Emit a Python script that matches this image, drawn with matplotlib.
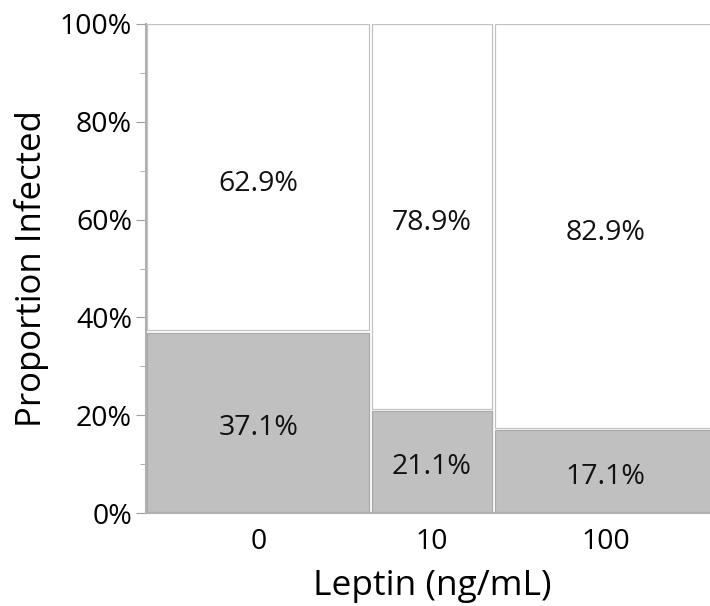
import matplotlib
matplotlib.use("Agg")
import matplotlib.pyplot as plt
from matplotlib.patches import Rectangle
from matplotlib.ticker import MultipleLocator, FuncFormatter

categories = ["0", "10", "100"]
counts = [35, 19, 35]
infected_pct = [37.1, 21.1, 17.1]
uninfected_pct = [62.9, 78.9, 82.9]

plt.rcParams['font.family'] = ['Open Sans', 'DejaVu Sans']

fig = plt.figure(figsize=(7.1, 6.06), dpi=100)
# the plot area runs slightly past the right edge of the figure, as in the reference
ax = fig.add_axes([146/710, 1-513/606, (718-146)/710, (513-24)/606])

total = sum(counts)
xgap = 0.0052
ygap = 0.45
edge = '#c2c2c2'
x0 = 0.0
centers = []
for cat, n, inf, uninf in zip(categories, counts, infected_pct, uninfected_pct):
    w = n / total
    left = x0 + (xgap/2 if x0 > 0 else 0.0015)
    right = x0 + w - xgap/2
    width = right - left
    ax.add_patch(Rectangle((left, 0.2), width, inf - 0.2 - ygap/2, facecolor='#c0c0c0',
                           edgecolor='#a9a9a9', lw=0.9))
    ax.add_patch(Rectangle((left, inf + ygap/2), width, 100 - inf - ygap/2, facecolor='white',
                           edgecolor=edge, lw=0.9))
    cx = x0 + w/2
    centers.append(cx)
    ax.annotate(f"{inf:.1f}%", (cx, inf/2), xytext=(0, -4), textcoords='offset points',
                ha='center', va='center', fontsize=20.5, color='#111111')
    ax.annotate(f"{uninf:.1f}%", (cx, inf + (100-inf)/2), xytext=(0, -4.5), textcoords='offset points',
                ha='center', va='center', fontsize=20.5, color='#111111')
    x0 += w

ax.set_xlim(0, 1)
ax.set_ylim(0, 100)
ax.set_xticks(centers)
ax.set_xticklabels(categories)
ax.tick_params(axis='x', length=0, labelsize=20.5, pad=11)
ax.yaxis.set_major_locator(MultipleLocator(20))
ax.yaxis.set_minor_locator(MultipleLocator(10))
ax.yaxis.set_major_formatter(FuncFormatter(lambda v, p: f"{int(v)}%"))
ax.tick_params(axis='y', which='major', length=7, color='#a0a0a0', labelsize=20.5, pad=3)
ax.tick_params(axis='y', which='minor', length=4, color='#a0a0a0')
for s in ['top', 'right']:
    ax.spines[s].set_visible(False)
for s in ['left', 'bottom']:
    ax.spines[s].set_color('#b0b0b0')
    ax.spines[s].set_linewidth(1.5)
ax.set_xlabel("Leptin (ng/mL)", fontsize=25.5, labelpad=9)
ax.set_ylabel("Proportion Infected", fontsize=25, labelpad=8)

fig.savefig("out.png", dpi=100)
